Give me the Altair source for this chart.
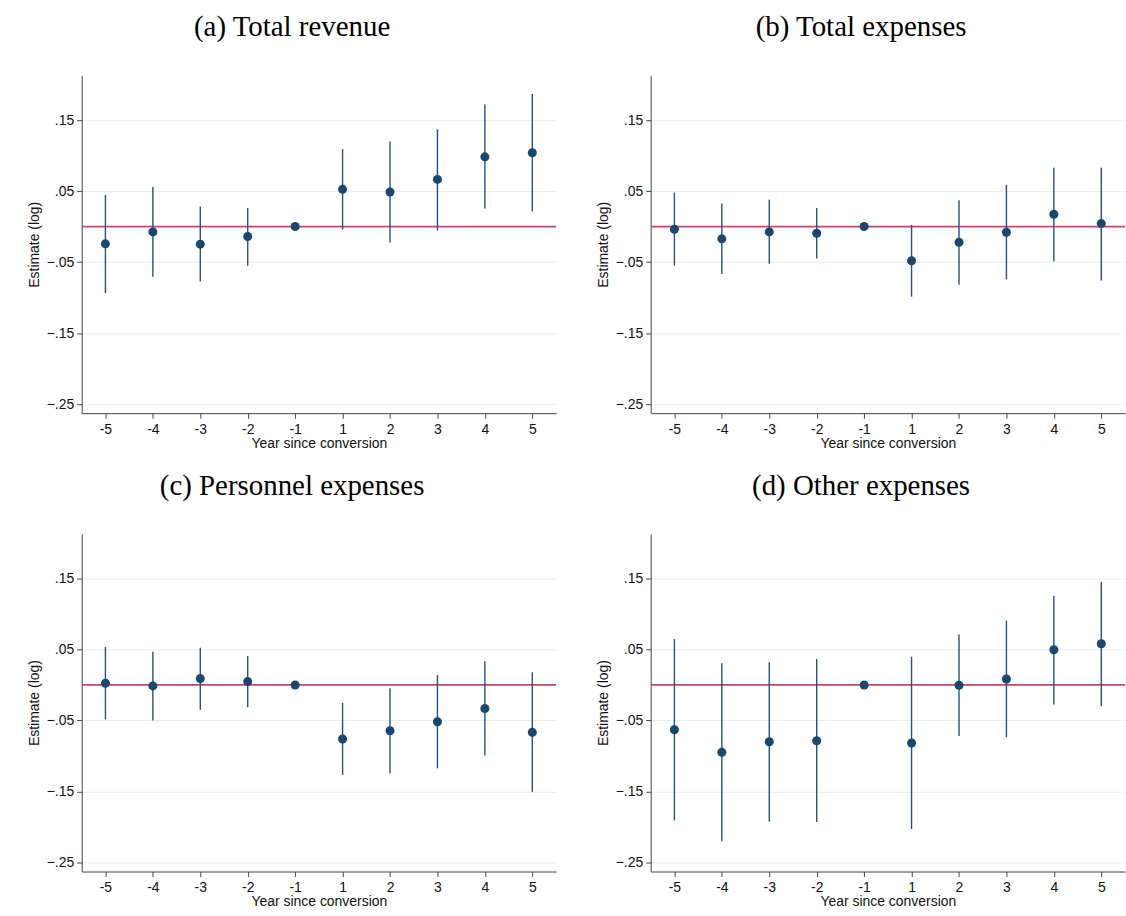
import altair as alt
import pandas as pd

# ---- data ----
years = [-5, -4, -3, -2, -1, 1, 2, 3, 4, 5]
positions = [0, 1, 2, 3, 4, 5, 6, 7, 8, 9]
y_ticks = [-0.25, -0.15, -0.05, 0.05, 0.15]

titles = ["(a) Total revenue", "(b) Total expenses",
          "(c) Personnel expenses", "(d) Other expenses"]

est_a = [-0.0243, -0.0075, -0.0248, -0.0140, 0.0, 0.0524, 0.0487, 0.0664, 0.0982, 0.1039]
lo_a = [-0.0936, -0.0706, -0.0772, -0.0552, None, -0.0042, -0.0225, -0.0056, 0.0253, 0.0215]
hi_a = [0.0444, 0.0557, 0.0281, 0.0262, None, 0.1090, 0.1198, 0.1370, 0.1720, 0.1867]

est_b = [-0.0037, -0.0173, -0.0075, -0.0094, 0.0, -0.0482, -0.0220, -0.0080, 0.0173, 0.0042]
lo_b = [-0.0552, -0.0669, -0.0524, -0.0449, None, -0.0987, -0.0819, -0.0744, -0.0487, -0.0758]
hi_b = [0.0477, 0.0323, 0.0379, 0.0262, None, 0.0023, 0.0370, 0.0585, 0.0828, 0.0828]

est_c = [0.0023, -0.0014, 0.0089, 0.0047, 0.0, -0.0762, -0.0645, -0.0519, -0.0332, -0.0668]
lo_c = [-0.0486, -0.0500, -0.0350, -0.0313, None, -0.1266, -0.1248, -0.1173, -0.0995, -0.1505]
hi_c = [0.0533, 0.0467, 0.0523, 0.0407, None, -0.0252, -0.0047, 0.0140, 0.0332, 0.0178]

est_d = [-0.0631, -0.0949, -0.0799, -0.0785, 0.0, -0.0818, -0.0005, 0.0084, 0.0495, 0.0580]
lo_d = [-0.1907, -0.2201, -0.1921, -0.1930, None, -0.2028, -0.0720, -0.0734, -0.0276, -0.0299]
hi_d = [0.0645, 0.0304, 0.0318, 0.0364, None, 0.0397, 0.0710, 0.0907, 0.1257, 0.1453]

NAVY = "#1a476f"
CI_COLOR = "#24527c"
RED = "#c8466b"
W, H = 476, 339
Y_DOMAIN = [-0.2627, 0.2129]


def yenc(field):
    return alt.Y(
        field,
        type="quantitative",
        scale=alt.Scale(domain=Y_DOMAIN, nice=False, zero=False),
        axis=alt.Axis(values=y_ticks,
                      labelExpr="replace(format(datum.value, '.2f'), '0.', '.')",
                      title="Estimate (log)", grid=True),
    )


xenc = alt.X(
    "pos:Q",
    scale=alt.Scale(domain=[-0.5, 9.5], nice=False, zero=False),
    axis=alt.Axis(values=positions,
                  labelExpr="datum.value < 5 ? datum.value - 5 : datum.value - 4",
                  title="Year since conversion", grid=False),
)


def panel(title, est, lo, hi):
    df = pd.DataFrame({"pos": positions, "year": years,
                       "est": est, "lo": lo, "hi": hi})
    zero = alt.Chart(pd.DataFrame({"z": [0.0]})).mark_rule(
        color=RED, strokeWidth=1.8
    ).encode(y=yenc("z"))
    ci = alt.Chart(df).transform_filter("isValid(datum.lo)").mark_rule(
        color=CI_COLOR, strokeWidth=1.4
    ).encode(x=xenc, y=yenc("lo"), y2="hi:Q")
    pts = alt.Chart(df).mark_circle(size=82, color=NAVY, opacity=1).encode(
        x=xenc, y=yenc("est")
    )
    return alt.layer(zero, ci, pts).properties(width=W, height=H, title=title)


pa = panel(titles[0], est_a, lo_a, hi_a)
pb = panel(titles[1], est_b, lo_b, hi_b)
pc = panel(titles[2], est_c, lo_c, hi_c)
pd_ = panel(titles[3], est_d, lo_d, hi_d)

row1 = alt.hconcat(pa, pb, spacing=39)
row2 = alt.hconcat(pc, pd_, spacing=39)

chart = alt.vconcat(row1, row2, spacing=22).properties(
    padding={"left": 27, "top": 12, "right": 0, "bottom": 0},
    background="white",
).configure_view(stroke=None).configure_axis(
    domainColor="#444", tickColor="#444", domainWidth=1, tickWidth=1,
    labelFont="Liberation Sans", titleFont="Liberation Sans",
    labelFontSize=14, titleFontSize=14, labelColor="#111", titleColor="#111",
    titleFontWeight="normal", gridColor="#e6eef0", gridWidth=1, tickSize=5,
).configure_axisY(labelPadding=3, titlePadding=5).configure_axisX(
    labelPadding=4, titlePadding=0
).configure_title(
    font="Liberation Serif", fontSize=29, fontWeight="normal", anchor="middle",
    frame="bounds", offset=33, color="black", baseline="alphabetic"
)

chart.save("out.html", embed_options={"renderer": "svg", "actions": False})
